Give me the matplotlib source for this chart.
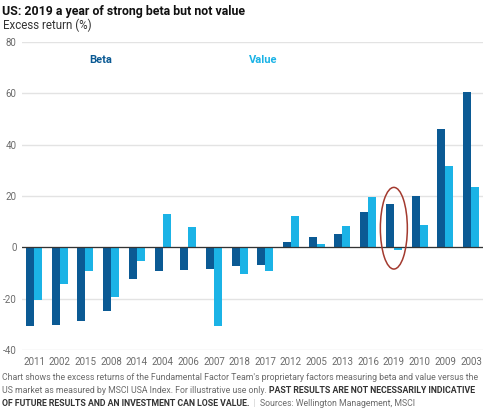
import numpy as np
import matplotlib.pyplot as plt
from matplotlib.patches import Ellipse

plt.rcParams['font.family'] = ['Roboto', 'DejaVu Sans']

# Data
years = ['2011', '2002', '2015', '2008', '2014', '2004', '2006', '2007', '2018',
         '2017', '2012', '2005', '2013', '2016', '2019', '2010', '2009', '2003']
beta = [-30.7, -30.1, -28.6, -24.9, -12.3, -9.2, -8.9, -8.4, -7.2,
        -6.8, 2.3, 4.1, 5.4, 13.9, 16.9, 20.1, 46.3, 60.4]
value = [-20.3, -14.3, -9.2, -19.1, -5.3, 12.9, 8.1, -30.6, -10.2,
         -9.0, 12.3, 1.2, 8.4, 19.7, -0.9, 8.8, 31.9, 23.4]
yticks = [-40, -20, 0, 20, 40, 60, 80]

dark = '#0b5a94'
light = '#1bb3e6'
grey = '#6b6b6b'

fig = plt.figure(figsize=(4.99, 4.12), dpi=100)
ax = fig.add_axes([0.044, 0.150, 0.924, 0.748])

x = np.arange(len(years))
w = 0.31
ax.bar(x - w / 2, beta, w, color=dark, zorder=3)
ax.bar(x + w / 2, value, w, color=light, zorder=3)

ax.set_xlim(-0.47, len(years) - 0.53)
ax.set_ylim(-40, 80)
ax.set_yticks(yticks)
ax.set_yticklabels([str(t) for t in yticks])
ax.set_xticks(x)
ax.set_xticklabels(years)
ax.tick_params(length=0, labelsize=7, labelcolor=grey)
ax.tick_params(axis='y', pad=4)
ax.tick_params(axis='x', pad=5)
for s in ax.spines.values():
    s.set_visible(False)
ax.yaxis.grid(True, color='#e3e3e3', linewidth=1, zorder=0)
ax.axhline(0, color='#333333', linewidth=0.9, zorder=4)

# circle around 2019
i19 = years.index('2019')
ax.add_patch(Ellipse((i19, 7.5), 1.05, 31.8, fill=False,
                     edgecolor='#a33a2f', linewidth=1.1, zorder=5))

# legend labels
ax.text(2.6, 73, 'Beta', color=dark, fontsize=8, fontweight='bold', ha='center', va='center')
ax.text(8.9, 73, 'Value', color=light, fontsize=8, fontweight='bold', ha='center', va='center')

fig.text(0.004, 0.987, 'US: 2019 a year of strong beta but not value',
         fontsize=8.9, fontweight='bold', color='#111111', va='top')
fig.text(0.006, 0.955, 'Excess return (%)', fontsize=8.3, color='#333333', va='top')

# footnote with mixed weights
fs = 6.3
r = fig.canvas.get_renderer()


def run(pieces, y):
    xx = 0.004
    for txt, bold, col in pieces:
        t = fig.text(xx, y, txt, fontsize=fs, color=col,
                     fontweight='bold' if bold else 'normal', va='baseline')
        bb = t.get_window_extent(renderer=r)
        xx = bb.x1 / fig.bbox.width


run([("Chart shows the excess returns of the Fundamental Factor Team's proprietary factors measuring beta and value versus the", False, grey)], 0.078)
run([("US market as measured by MSCI USA Index. For illustrative use only. ", False, grey),
     ("PAST RESULTS ARE NOT NECESSARILY INDICATIVE", True, '#333333')], 0.046)
run([("OF FUTURE RESULTS AND AN INVESTMENT CAN LOSE VALUE.", True, '#333333'),
     ("  |  ", False, '#cccccc'),
     ("Sources: Wellington Management, MSCI", False, grey)], 0.014)

fig.savefig('out.png', dpi=100)
